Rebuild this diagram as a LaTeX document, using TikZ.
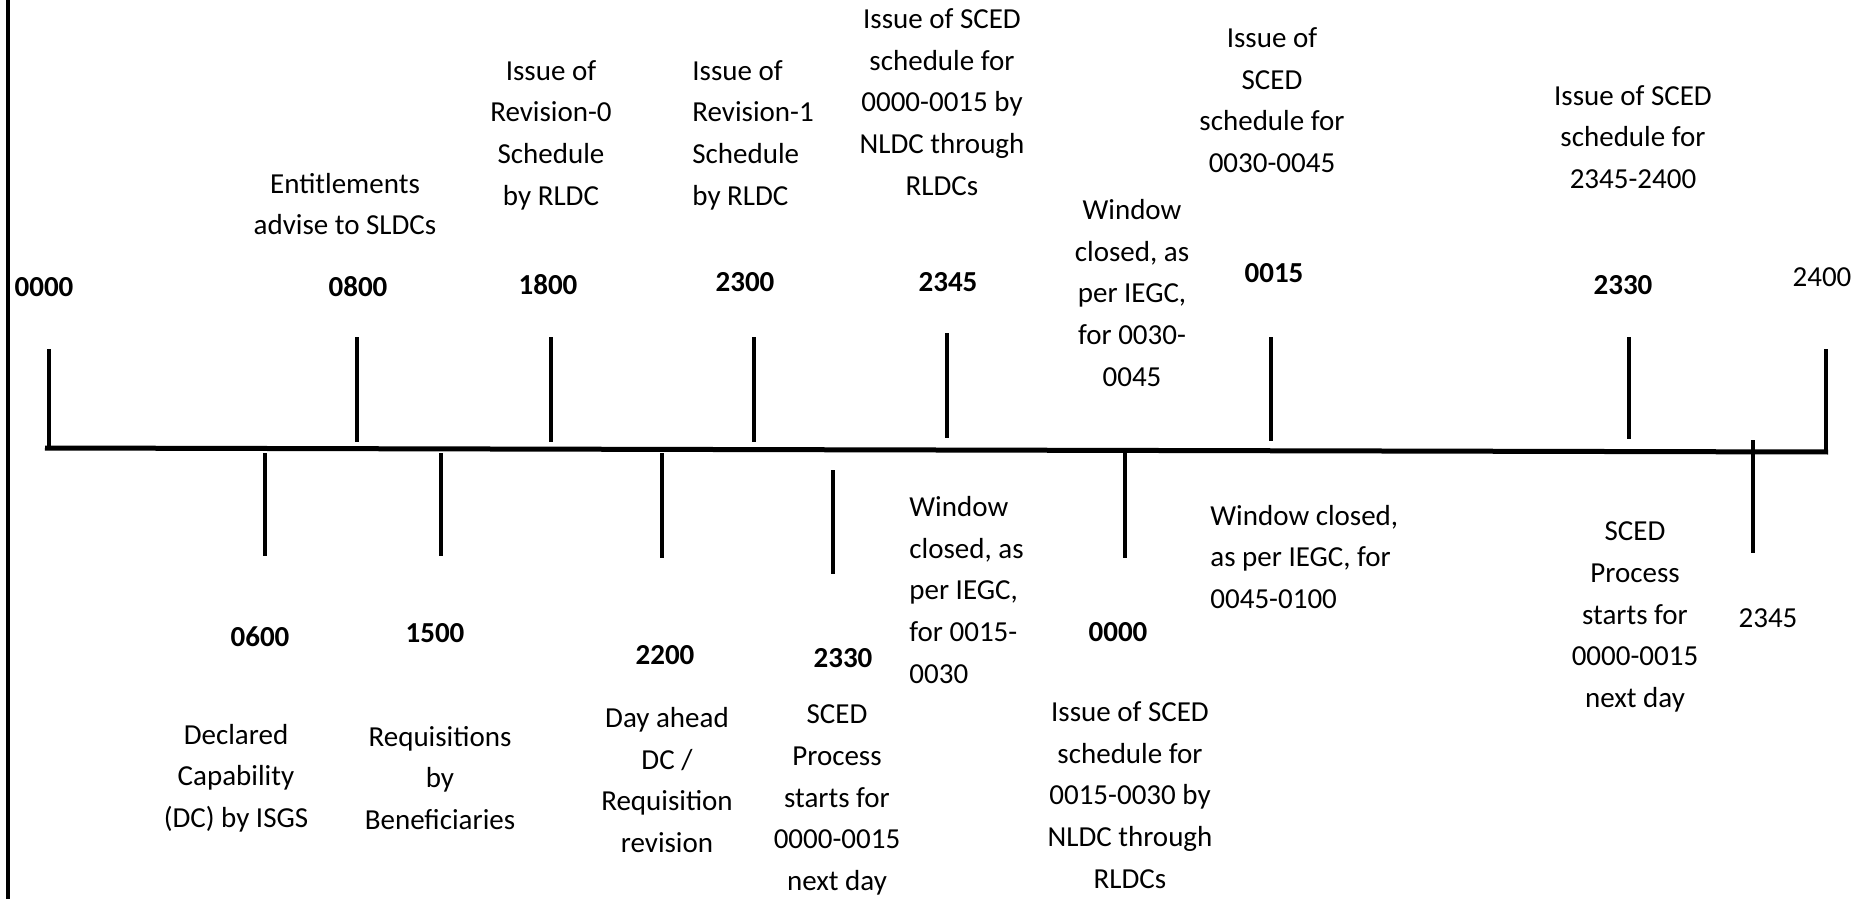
\documentclass[tikz,border=0pt]{standalone}
\usepackage{fontspec}
\setmainfont{Carlito}
\usepackage{tikz}

\tikzset{
  desc/.style={align=center, inner sep=0pt, font=\fontsize{14.5}{20.8}\selectfont},
  descl/.style={desc, align=left, anchor=west},
  hour/.style={inner sep=0pt, font=\fontsize{14.5}{20.8}\selectfont\bfseries},
  hourn/.style={inner sep=0pt, font=\fontsize{14.5}{20.8}\selectfont},
  hourtick/.style={line width=2.4pt},
}

\begin{document}
\begin{tikzpicture}[x=0.5pt, y=-0.5pt]
    \useasboundingbox (0,0) rectangle (1860,899);
    % left border and time axis
    \coordinate (bt) at (8,0);
    \coordinate (bb) at (8,899);
    \draw [line width=2pt] (bt) -- (bb);
    \coordinate (ax1) at (45,448);
    \coordinate (ax2) at (1828,452);
    \draw [line width=2.5pt] (ax1) -- (ax2);

    % ticks: x / top / bottom
    \foreach \x/\a/\b [count=\i] in {49/349/449, 357/337/442, 551/337/442,
        754/337/442, 947/333/438, 1271/337/441, 1629/337/439, 1826/349/453,
        265/453/556, 441/453/556, 662/453/558, 833/470/574, 1125/453/558,
        1753/440/553} {
      \coordinate (up\i) at (\x,\a);
      \coordinate (dn\i) at (\x,\b);
      \draw [hourtick] (up\i) -- (dn\i);
    }

    % times above the axis
    \node [hour] (h0000) at (44,287) {0000};
    \node [hour] (h0800) at (358,287) {0800};
    \node [hour] (h1800) at (548,285) {1800};
    \node [hour] (h2300) at (745,282) {2300};
    \node [hour] (h2345) at (948,282) {2345};
    \node [hour] (h0015) at (1274,273) {0015};
    \node [hour] (h2330) at (1623,285) {2330};
    \node [hourn] (h2400) at (1822,277) {2400};

    % times below the axis
    \node [hour] (h0600) at (260,637) {0600};
    \node [hour] (h1500) at (435,633) {1500};
    \node [hour] (h2200) at (665,655) {2200};
    \node [hour] (h2330b) at (843,658) {2330};
    \node [hour] (h0000b) at (1118,632) {0000};
    \node [hourn] (h2345b) at (1768,618) {2345};

    % events above
    \node [desc] (entitle) at (345,204) {Entitlements\\advise to SLDCs};
    \node [desc] (rev0) at (551,135) {Issue of\\Revision-0\\Schedule\\by RLDC};
    \node [descl] (rev1) at (692,135) {Issue of\\Revision-1\\Schedule\\by RLDC};
    \node [desc] (sced0) at (942,102) {Issue of SCED\\schedule for\\0000-0015 by\\NLDC through\\RLDCs};
    \node [desc] (win30) at (1132,293) {Window\\closed, as\\per IEGC,\\for 0030-\\0045};
    \node [desc] (sced30) at (1272,100) {Issue of\\SCED\\schedule for\\0030-0045};
    \node [desc] (sced2345) at (1633,137) {Issue of SCED\\schedule for\\2345-2400};

    % events below
    \node [desc] (dc) at (236,778) {Declared\\Capability\\(DC) by ISGS};
    \node [desc] (req) at (440,778) {Requisitions\\by\\Beneficiaries};
    \node [desc] (dayahead) at (667,780) {Day ahead\\DC /\\Requisition\\revision};
    \node [desc] (scedA) at (837,800) {SCED\\Process\\starts for\\0000-0015\\next day};
    \node [descl] (win15) at (909,590) {Window\\closed, as\\per IEGC,\\for 0015-\\0030};
    \node [desc] (sced15) at (1130,795) {Issue of SCED\\schedule for\\0015-0030 by\\NLDC through\\RLDCs};
    \node [descl] (win45) at (1210,557) {Window closed,\\as per IEGC, for\\0045-0100};
    \node [desc] (scedB) at (1635,617) {SCED\\Process\\starts for\\0000-0015\\next day};
\end{tikzpicture}
\end{document}
